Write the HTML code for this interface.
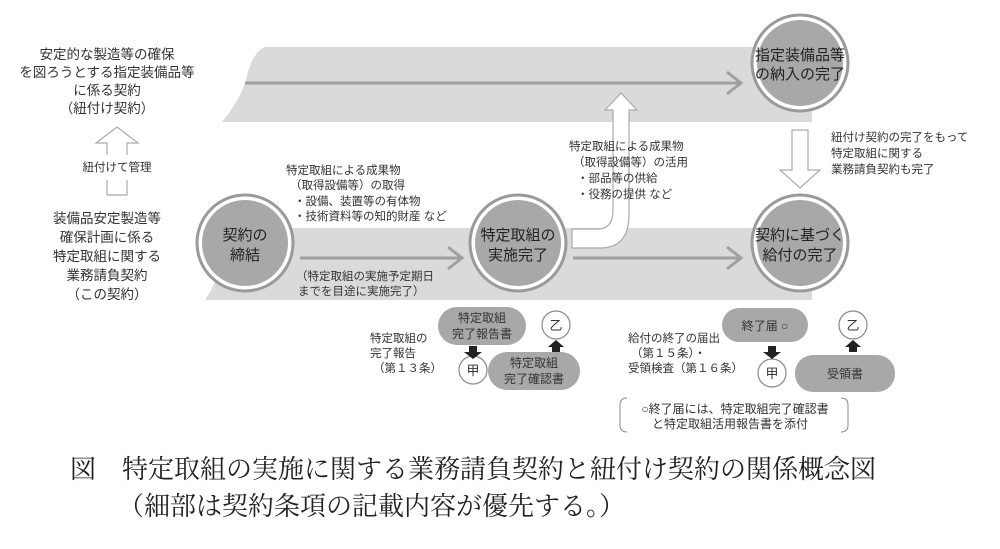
<!DOCTYPE html>
<html><head><meta charset="utf-8"><style>
html,body{margin:0;padding:0;background:#fff;}
svg{display:block;}
text{font-family:"Liberation Sans","Noto Sans CJK JP",sans-serif;fill:#333;}
.s{font-size:11.5px;}
.c{font-size:15px;fill:#222;text-anchor:middle;}
.t{font-family:"Liberation Serif","Noto Serif CJK JP",serif;font-size:26px;fill:#222;}
</style></head><body>
<svg width="1000" height="549" viewBox="0 0 1000 549" xmlns="http://www.w3.org/2000/svg">
<path d="M265,47 L812,47 L812,122 L222,122 Q240,100 246,80 Q252,52 265,47 Z" fill="#dadada"/>
<line x1="245" y1="83" x2="740" y2="83" stroke="#a0a0a0" stroke-width="3"/>
<polyline points="727,72 741,83 727,94" fill="none" stroke="#a0a0a0" stroke-width="3"/>
<path d="M230,228 L812,228 L812,300 L205,300 Q215,285 222,265 Z" fill="#dadada"/>
<line x1="300" y1="258" x2="460" y2="258" stroke="#a0a0a0" stroke-width="3"/>
<polyline points="448,247 462,258 448,269" fill="none" stroke="#a0a0a0" stroke-width="3"/>
<line x1="573" y1="258" x2="740" y2="258" stroke="#a0a0a0" stroke-width="3"/>
<polyline points="727,247 741,258 727,269" fill="none" stroke="#a0a0a0" stroke-width="3"/>
<path d="M572,229 L598,229 Q613,229 613,210 L613,110 L605,110 L621,93 L637,110 L629,110 L629,215 Q629,248 600,248 L572,248 Z" fill="#fff" stroke="#aaa" stroke-width="1.2"/>
<g stroke="#9a9a9a" stroke-width="3">
<circle cx="800" cy="63" r="48" fill="#fff"/><circle cx="800" cy="63" r="43" fill="#a8a8a8" stroke="none"/>
<circle cx="245" cy="243" r="48" fill="#fff"/><circle cx="245" cy="243" r="43" fill="#a8a8a8" stroke="none"/>
<circle cx="518" cy="243" r="48" fill="#fff"/><circle cx="518" cy="243" r="43" fill="#a8a8a8" stroke="none"/>
<circle cx="800" cy="243" r="48" fill="#fff"/><circle cx="800" cy="243" r="43" fill="#a8a8a8" stroke="none"/>
</g>
<text class="c" x="800" y="60">指定装備品等</text><text class="c" x="800" y="79">の納入の完了</text>
<text class="c" x="245" y="240">契約の</text><text class="c" x="245" y="260">締結</text>
<text class="c" x="518" y="240">特定取組の</text><text class="c" x="518" y="260">実施完了</text>
<text class="c" x="800" y="240">契約に基づく</text><text class="c" x="800" y="260">給付の完了</text>
<path d="M792,130 L808,130 L808,170 L820,170 L800,188 L780,170 L792,170 Z" fill="#fff" stroke="#aaa" stroke-width="1.2"/>
<path d="M107,195 L107,180 M127,180 L127,195 L107,195 M107,155 L107,143 L96,143 L117,127 L138,143 L127,143 L127,155" fill="none" stroke="#aaa" stroke-width="1.2"/>
<g class="s">
<text x="117" y="171" text-anchor="middle">紐付けて管理</text>
</g>
<g style="font-size:13.5px" text-anchor="middle">
<text x="107" y="59">安定的な製造等の確保</text>
<text x="107" y="77">を図ろうとする指定装備品等</text>
<text x="107" y="95">に係る契約</text>
<text x="107" y="113">（紐付け契約）</text>
<text x="107" y="223">装備品安定製造等</text>
<text x="107" y="242">確保計画に係る</text>
<text x="107" y="261">特定取組に関する</text>
<text x="107" y="280">業務請負契約</text>
<text x="107" y="299">（この契約）</text>
</g>
<g class="s">
<text x="286" y="174">特定取組による成果物</text>
<text x="290" y="189">（取得設備等）の取得</text>
<text x="294" y="205">・設備、装置等の有体物</text>
<text x="294" y="220">・技術資料等の知的財産 など</text>
<text x="296" y="280">（特定取組の実施予定期日</text>
<text x="298" y="295">までを目途に実施完了）</text>
<text x="569" y="150">特定取組による成果物</text>
<text x="573" y="166">（取得設備等）の活用</text>
<text x="577" y="182">・部品等の供給</text>
<text x="577" y="198">・役務の提供 など</text>
<text x="831" y="141">紐付け契約の完了をもって</text>
<text x="831" y="157">特定取組に関する</text>
<text x="831" y="173">業務請負契約も完了</text>
<text x="370" y="342">特定取組の</text>
<text x="370" y="357">完了報告</text>
<text x="373" y="372">（第１３条）</text>
<text x="628" y="342">給付の終了の届出</text>
<text x="631" y="357">（第１５条）・</text>
<text x="628" y="372">受領検査（第１６条）</text>
</g>
<g fill="#a8a8a8">
<rect x="438" y="307" width="88" height="38" rx="19"/>
<rect x="488" y="352" width="92" height="38" rx="19"/>
<rect x="722" y="308" width="86" height="34" rx="17"/>
<rect x="795" y="355" width="100" height="37" rx="18"/>
</g>
<g fill="#fff" stroke="#888" stroke-width="1.2">
<circle cx="556" cy="325" r="14"/><circle cx="473" cy="370" r="14"/>
<circle cx="853" cy="325" r="14"/><circle cx="772" cy="373" r="14"/>
</g>
<g fill="#222">
<path d="M469,346 h8 v6 h5 l-9,7 l-9,-7 h5 z"/>
<path d="M552,352 h8 v-5 h4 l-8,-7 l-8,7 h4 z"/>
<path d="M768,346 h8 v6 h5 l-9,7 l-9,-7 h5 z"/>
<path d="M849,352 h8 v-5 h4 l-8,-7 l-8,7 h4 z"/>
</g>
<g class="s" text-anchor="middle" style="font-size:12px">
<text x="482" y="322">特定取組</text><text x="482" y="338">完了報告書</text>
<text x="534" y="367">特定取組</text><text x="534" y="383">完了確認書</text>
<text x="765" y="330">終了届 ○</text>
<text x="845" y="378">受領書</text>
<text x="556" y="330" style="font-size:13px">乙</text>
<text x="473" y="375" style="font-size:13px">甲</text>
<text x="853" y="330" style="font-size:13px">乙</text>
<text x="772" y="378" style="font-size:13px">甲</text>
<text x="735" y="413">○終了届には、特定取組完了確認書</text>
<text x="730" y="428">と特定取組活用報告書を添付</text>
</g>
<path d="M627,398 Q620,398 620,405 L620,425 Q620,432 627,432" fill="none" stroke="#888"/>
<path d="M841,398 Q848,398 848,405 L848,425 Q848,432 841,432" fill="none" stroke="#888"/>
<text class="t" x="70" y="478">図　特定取組の実施に関する業務請負契約と紐付け契約の関係概念図</text>
<text class="t" x="118" y="515">（細部は契約条項の記載内容が優先する。）</text>
</svg>
</body></html>
